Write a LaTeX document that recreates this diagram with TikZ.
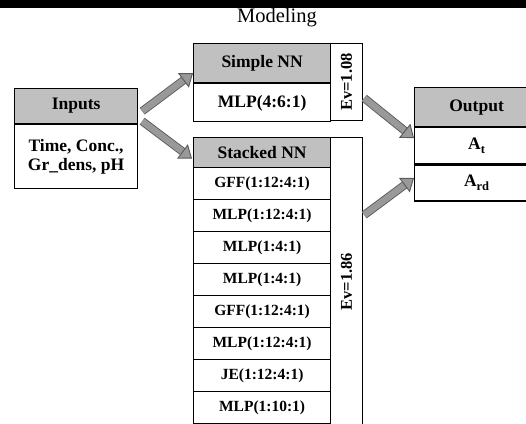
\documentclass[tikz,border=0pt]{standalone}
\usepackage{fontspec}
\setmainfont{Liberation Serif}
\usetikzlibrary{positioning,arrows.meta}

\definecolor{headgray}{HTML}{C0C0C0}
\definecolor{arrowgray}{HTML}{999999}
\definecolor{arrowedge}{HTML}{5A5A5A}

\newcommand{\outsub}[1]{\raisebox{-3.5pt}{\fontsize{12.5}{12.5}\selectfont #1}}

\tikzset{
  box/.style={draw=black, line width=1.2pt, inner sep=0pt, anchor=north west, align=center,
    font=\fontsize{17.5}{19}\selectfont\bfseries},
  headbox/.style={box, fill=headgray},
  rowbox/.style={box, minimum width=137pt, minimum height=32pt,
    font=\fontsize{15.5}{17}\selectfont\bfseries},
  evbox/.style={box, font=\fontsize{16.5}{18}\selectfont\bfseries},
  blockarrow/.style={draw=arrowedge, line width=0.9pt, double=arrowgray, double distance=6.5pt,
    -{Triangle[length=12pt,width=18pt,fill=arrowgray,line width=0.9pt]}},
}

\begin{document}
\begin{tikzpicture}[x=1pt,y=-1pt]

	\useasboundingbox (0,0) rectangle (526,423);
	\clip (0,0) rectangle (526,423);
	\fill[black] (0,0) rectangle (526,7.5);

	\node[font=\fontsize{20.5}{22}\selectfont] (title) at (277,18) {Modeling};

	% Inputs
	\node[headbox, minimum width=123pt, minimum height=35pt] (inhead) at (14,88) {Inputs};
	\node[box, minimum width=123pt, minimum height=64pt, below=0pt of inhead] (inbody) {Time, Conc.,\\Gr\_dens, pH};

	% Simple NN
	\node[headbox, minimum width=137pt, minimum height=39pt] (simhead) at (193,43) {Simple NN};
	\node[box, minimum width=137pt, minimum height=38pt, below=0pt of simhead] (simbody) {MLP(4:6:1)};
	\node[evbox, minimum width=32pt, minimum height=77pt] (simev) at (330,43) {\rotatebox{90}{Ev=1.08}};

	% Stacked NN
	\node[headbox, minimum width=137pt, minimum height=30pt] (stkhead) at (193,137) {Stacked NN};
	\foreach \net [count=\i] in {GFF(1:12:4:1),MLP(1:12:4:1),MLP(1:4:1),MLP(1:4:1),GFF(1:12:4:1),MLP(1:12:4:1),JE(1:12:4:1),MLP(1:10:1)}
		\node[rowbox] (stk\i) at (193,135+32*\i) {\net};
	\node[evbox, minimum width=32pt, minimum height=288pt] (stkev) at (330,137) {\rotatebox{90}{Ev=1.86}};

	% Output
	\node[headbox, minimum width=124pt, minimum height=39pt] (outhead) at (414,87) {Output};
	\node[box, minimum width=124pt, minimum height=36pt, below=0pt of outhead] (outt) {A\outsub{t}};
	\node[box, minimum width=124pt, minimum height=36pt, below=0pt of outt] (outrd) {A\outsub{rd}};

	% Draw the arrows
	\draw[blockarrow] ([shift={(4,-13)}]inhead.south east) -- ([shift={(0,-10)}]simhead.south west);
	\draw[blockarrow] ([shift={(4,-3)}]inhead.south east) -- ([shift={(-1,6)}]stkhead.west);
	\draw[blockarrow] ([shift={(1,16)}]simev.east) -- ([shift={(0,11)}]outhead.south west);
	\draw[blockarrow] ([shift={(1,78)}]stkev.north east) -- ([shift={(0,-5)}]outrd.west);

\end{tikzpicture}
\end{document}
